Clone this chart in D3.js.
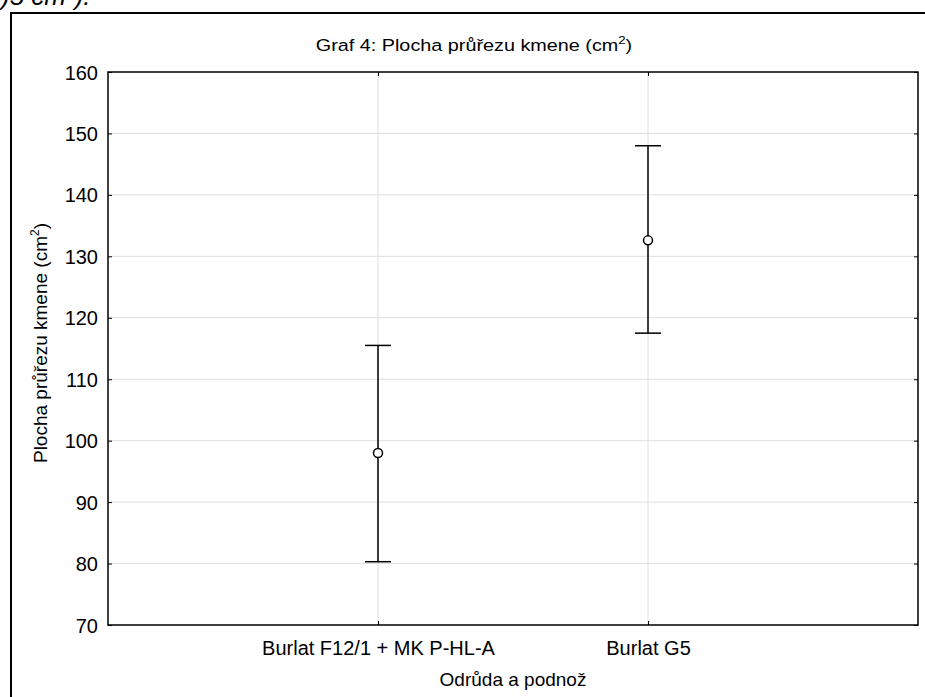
<!DOCTYPE html>
<html><head><meta charset="utf-8">
<script src="https://cdn.jsdelivr.net/npm/d3@7"></script>
<style>body{margin:0;background:#fff;} svg{display:block;} text{font-family:"Liberation Sans",Arial,sans-serif;fill:#000;}</style>
</head><body>
<svg id="c" width="925" height="697"></svg>
<script>
const categories = ["Burlat F12/1 + MK P-HL-A", "Burlat G5"];
const means = [98.0, 132.6];
const upper = [115.5, 148.0];
const lower = [80.3, 117.5];
const yTicks = [70, 80, 90, 100, 110, 120, 130, 140, 150, 160];

const svg = d3.select("#c");
const L = 108, R = 918, T = 72, B = 625;
const x = d3.scaleLinear().domain([0, categories.length + 1]).range([L, R]);
const y = d3.scaleLinear().domain([70, 160]).range([B, T]);

// partial caption text at top (cut by the page edge)
svg.append("text").attr("x", 1).attr("y", 5).attr("font-size", 26).attr("font-style", "italic")
  .text(")5 cm\u00b2).");

// outer frame
svg.append("path").attr("d", `M11,697 V13 H925`).attr("fill", "none").attr("stroke", "#000").attr("stroke-width", 2);

// grid
const g = svg.append("g");
g.selectAll(".gy").data(yTicks.slice(1, -1)).enter().append("line")
  .attr("x1", L).attr("x2", R).attr("y1", d => y(d)).attr("y2", d => y(d))
  .attr("stroke", "#dedede").attr("stroke-width", 1);
g.selectAll(".gx").data(categories).enter().append("line")
  .attr("x1", (d, i) => x(i + 1)).attr("x2", (d, i) => x(i + 1)).attr("y1", T).attr("y2", B)
  .attr("stroke", "#dedede").attr("stroke-width", 1);

// axes with inward ticks
const yAxis = d3.axisLeft(y).tickValues(yTicks).tickSize(-4).tickFormat(d3.format("d"));
const ya = svg.append("g").attr("transform", `translate(${L},0)`).call(yAxis);
ya.select(".domain").remove();
ya.selectAll("text").attr("font-size", 20).attr("dy", "0.35em").attr("x", -10);
ya.selectAll("line").attr("stroke", "#000");
const yAxisR = d3.axisRight(y).tickValues(yTicks).tickSize(-4).tickFormat("");
const yr = svg.append("g").attr("transform", `translate(${R},0)`).call(yAxisR);
yr.select(".domain").remove(); yr.selectAll("line").attr("stroke", "#000");

const xAxis = d3.axisBottom(x).tickValues(categories.map((d, i) => i + 1)).tickSize(-4)
  .tickFormat((d) => categories[d - 1]);
const xa = svg.append("g").attr("transform", `translate(0,${B})`).call(xAxis);
xa.select(".domain").remove();
xa.selectAll("line").attr("stroke", "#000");
xa.selectAll("text").attr("font-size", 20).attr("y", 30).attr("dy", 0);
const xAxisT = d3.axisTop(x).tickValues(categories.map((d, i) => i + 1)).tickSize(-4).tickFormat("");
const xt = svg.append("g").attr("transform", `translate(0,${T})`).call(xAxisT);
xt.select(".domain").remove(); xt.selectAll("line").attr("stroke", "#000");

// plot box
svg.append("rect").attr("x", L).attr("y", T).attr("width", R - L).attr("height", B - T)
  .attr("fill", "none").attr("stroke", "#000").attr("stroke-width", 1.5);

// title
const title = svg.append("text").attr("x", 474).attr("y", 51).attr("text-anchor", "middle").attr("font-size", 16.5)
  .attr("transform", "translate(474,0) scale(1.2,1) translate(-474,0)");
title.append("tspan").text("Graf 4: Plocha průřezu kmene (cm");
title.append("tspan").attr("font-size", 11).attr("dy", -7).text("2");
title.append("tspan").attr("dy", 7).text(")");

// axis titles
svg.append("text").attr("x", (L + R) / 2).attr("y", 686).attr("text-anchor", "middle").attr("font-size", 19)
  .text("Odrůda a podnož");
const yl = svg.append("text").attr("transform", `translate(47,343) rotate(-90)`)
  .attr("text-anchor", "middle").attr("font-size", 19);
yl.append("tspan").text("Plocha průřezu kmene (cm");
yl.append("tspan").attr("font-size", 12).attr("dy", -8).text("2");
yl.append("tspan").attr("dy", 8).text(")");

// error bars
const eb = svg.append("g").attr("stroke", "#000").attr("stroke-width", 1.5).attr("fill", "none");
categories.forEach((c, i) => {
  const cx = x(i + 1);
  eb.append("line").attr("x1", cx).attr("x2", cx).attr("y1", y(upper[i])).attr("y2", y(lower[i]));
  eb.append("line").attr("x1", cx - 13).attr("x2", cx + 13).attr("y1", y(upper[i])).attr("y2", y(upper[i]));
  eb.append("line").attr("x1", cx - 13).attr("x2", cx + 13).attr("y1", y(lower[i])).attr("y2", y(lower[i]));
  eb.append("circle").attr("cx", cx).attr("cy", y(means[i])).attr("r", 4.5).attr("fill", "#fff");
});
</script>
</body></html>
